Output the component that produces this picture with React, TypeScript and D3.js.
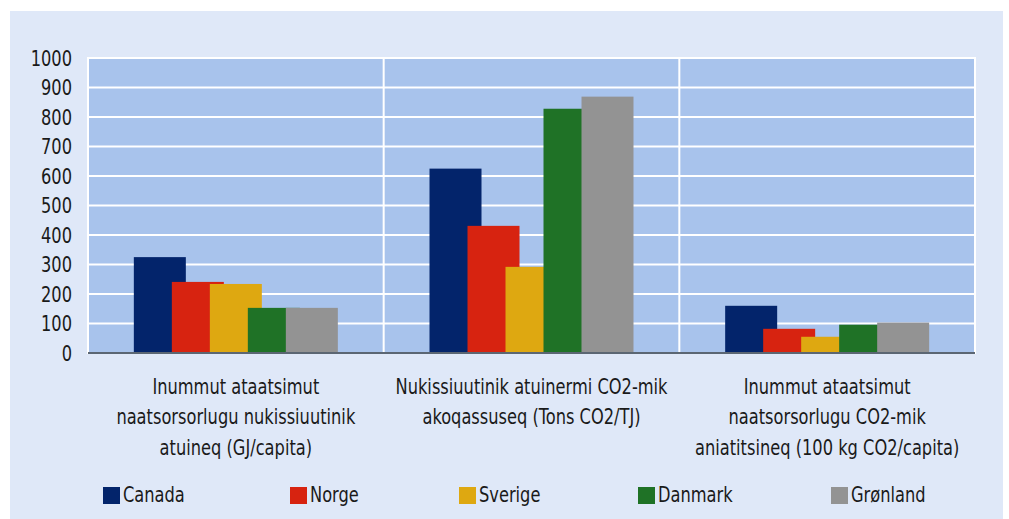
import React from "react";
import * as d3 from "d3";

const categories: string[][] = [
  ["Inummut ataatsimut", "naatsorsorlugu nukissiuutinik", "atuineq (GJ/capita)"],
  ["Nukissiuutinik atuinermi CO2-mik", "akoqassuseq (Tons CO2/TJ)"],
  ["Inummut ataatsimut", "naatsorsorlugu CO2-mik", "aniatitsineq (100 kg CO2/capita)"],
];
const seriesNames = ["Canada", "Norge", "Sverige", "Danmark", "Grønland"];
const seriesColors = ["#03246b", "#d72310", "#dea811", "#1f7226", "#939393"];
const canada = [325, 625, 160];
const norge = [241, 431, 82];
const sverige = [234, 292, 55];
const danmark = [153, 828, 96];
const gronland = [153, 869, 103];
const seriesValues = [canada, norge, sverige, danmark, gronland];
const yTicks = [0, 100, 200, 300, 400, 500, 600, 700, 800, 900, 1000];
const legendX = [103, 290, 459, 638, 831];

const W = 1009, H = 519;
const plot = { left: 88, right: 975, top: 58, bottom: 353 };
const FONT = "'Liberation Sans Narrow', 'DejaVu Sans Condensed', 'Liberation Sans', sans-serif";
const SX = 0.86;
const TXT = "#1a1a1a";

export default function App() {
  const x0 = d3.scaleBand<number>().domain([0, 1, 2]).range([plot.left, plot.right]).paddingInner(0).paddingOuter(0);
  const y = d3.scaleLinear().domain([0, 1000]).range([plot.bottom, plot.top]);
  const barW = 52;
  const x1 = d3.scaleLinear().domain([0, 4]).range([-76, 76]);
  const bw = x0.bandwidth();

  return (
    <svg width={W} height={H} style={{ position: "absolute", left: 0, top: 0, display: "block" }} fontFamily={FONT}>
      <rect x={10} y={11} width={993} height={508} fill="#dfe8f8" />
      <rect x={plot.left} y={plot.top} width={plot.right - plot.left} height={plot.bottom - plot.top} fill="#a8c3ec" stroke="#ffffff" strokeWidth={2} />
      {yTicks.filter(t => t > 0 && t < 1000).map(t => (
        <line key={t} x1={plot.left} x2={plot.right} y1={y(t)} y2={y(t)} stroke="#ffffff" strokeWidth={2} />
      ))}
      {[1, 2].map(i => (
        <line key={i} x1={x0(i)!} x2={x0(i)!} y1={plot.top} y2={plot.bottom} stroke="#ffffff" strokeWidth={2} />
      ))}
      {seriesValues.map((vals, s) =>
        vals.map((v, g) => {
          const cx = x0(g)! + bw / 2 + x1(s);
          return (
            <rect key={`${s}-${g}`} x={cx - barW / 2} y={y(v)} width={barW} height={y(0) - y(v)} fill={seriesColors[s]} />
          );
        })
      )}
      <line x1={plot.left} x2={plot.right} y1={plot.bottom} y2={plot.bottom} stroke="#5b6673" strokeWidth={2} />
      {yTicks.map(t => (
        <g key={t} transform={`translate(72,${y(t)}) scale(${SX},1)`}>
          <text x={0} y={0} dy="0.38em" textAnchor="end" fontSize={21} fill={TXT}>{t}</text>
        </g>
      ))}
      {categories.map((lines, g) => (
        <g key={g} transform={`translate(${x0(g)! + bw / 2},0) scale(${SX},1)`}>
          <text textAnchor="middle" fontSize={21} fill={TXT}>
            {lines.map((l, i) => (
              <tspan key={i} x={0} y={394 + i * 30.5}>{l}</tspan>
            ))}
          </text>
        </g>
      ))}
      {seriesNames.map((n, s) => (
        <g key={n}>
          <rect x={legendX[s]} y={487} width={17} height={17} fill={seriesColors[s]} />
          <g transform={`translate(${legendX[s] + 20},502) scale(${SX},1)`}>
            <text x={0} y={0} fontSize={21} fill={TXT}>{n}</text>
          </g>
        </g>
      ))}
    </svg>
  );
}
